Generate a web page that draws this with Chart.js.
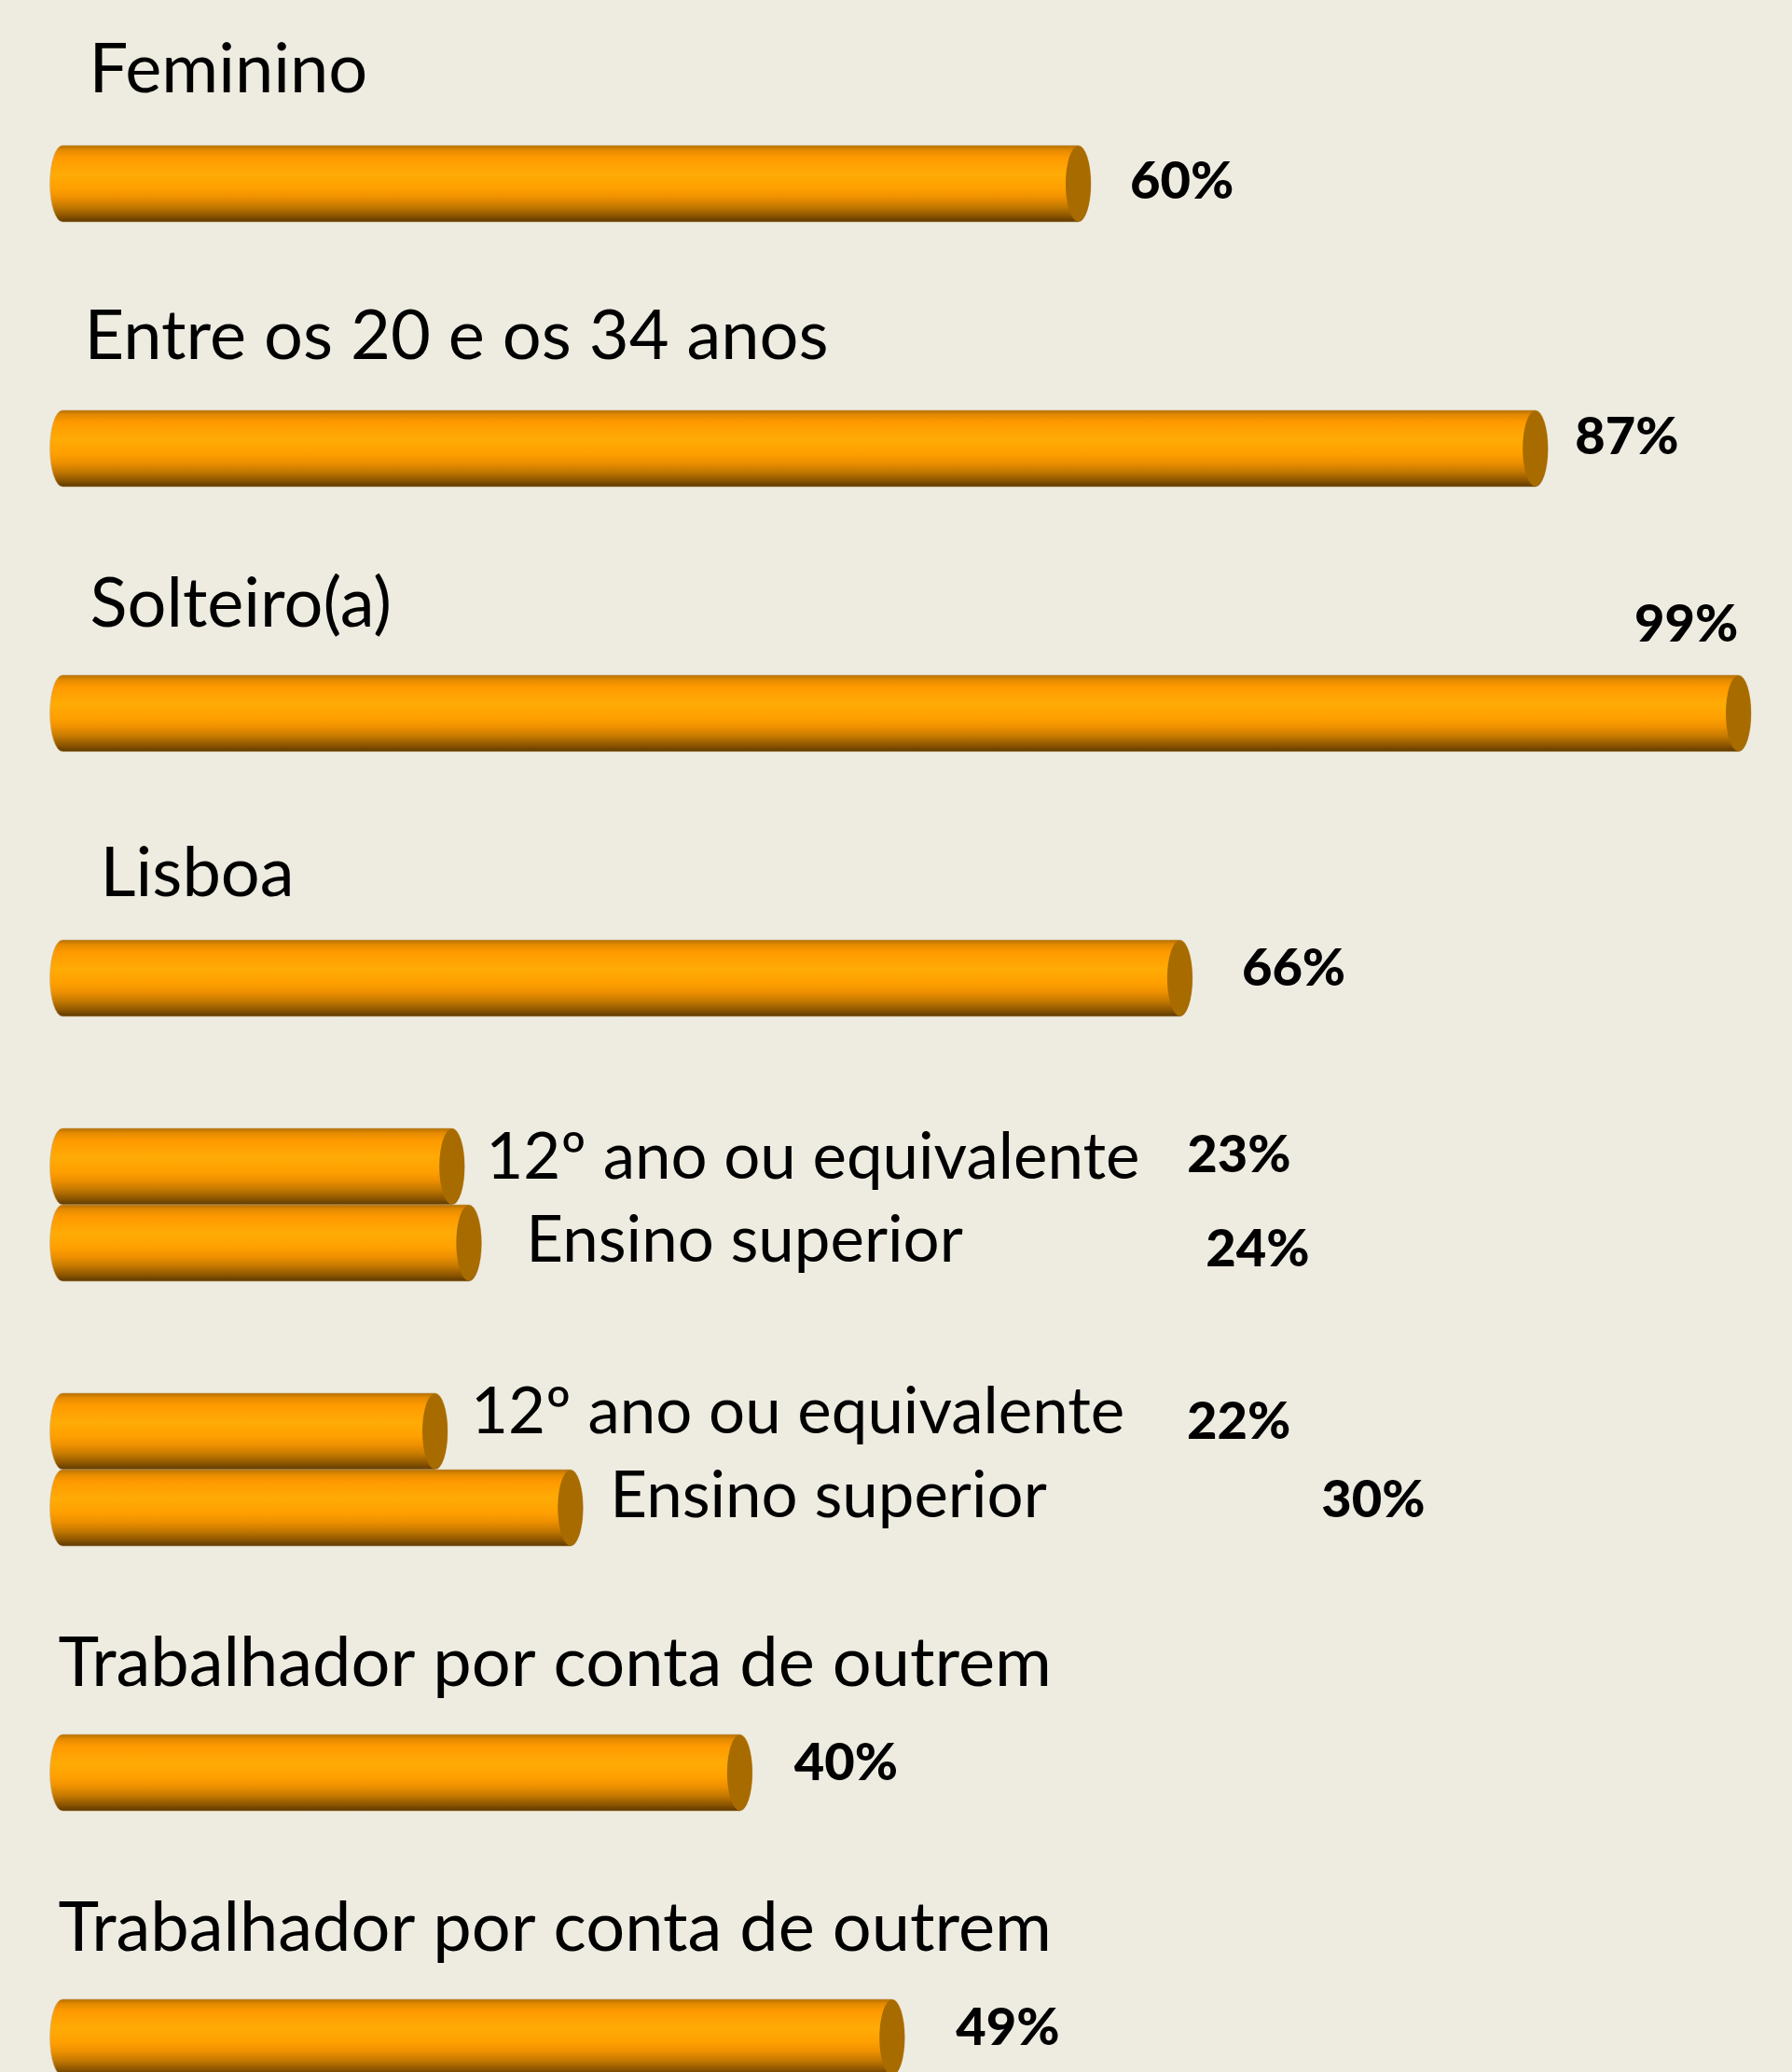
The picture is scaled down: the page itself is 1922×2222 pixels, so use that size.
<!DOCTYPE html>
<html>
<head>
<meta charset="utf-8">
<script src="https://cdn.jsdelivr.net/npm/chart.js@4.4.1/dist/chart.umd.min.js"></script>
<style>
    html, body { margin: 0; padding: 0; background: #EEECE1; overflow: hidden; }
    #profileChart { display: block; }
</style>
</head>
<body>
<canvas id="profileChart" width="1922" height="2300"></canvas>
<script>
// Group titles (empty where the group has two labelled bars instead)
const groups = ['Feminino', 'Entre os 20 e os 34 anos', 'Solteiro(a)', 'Lisboa', '', '',
    'Trabalhador por conta de outrem', 'Trabalhador por conta de outrem'];

// Upper bar of the paired groups
const upperLabels = [null, null, null, null, '12º ano ou equivalente', '12º ano ou equivalente', null, null];
const upperValues = [null, null, null, null, 23, 22, null, null];

// Main bar of every group
const mainLabels = [null, null, null, null, 'Ensino superior', 'Ensino superior', null, null];
const mainValues = [60, 87, 99, 66, 24, 30, 40, 49];

// Hand placed text positions, relative to the bars (px)
const titleOffsets = [[15, -57], [10, -55], [16, -52], [27, -47], null, null, [-18, -52], [-18, -52]];
const mainPctOffsets = [[42, 16], [29, 6], [-125, -77], [53, 8], [777, 25], [792, 10], [45, 8], [55, 8]];
const upperPctOffsets = [null, null, null, null, [775, 6], [793, 8], null, null];
const mainLabelOffsets = [null, null, null, null, [48, 20], [29, 10], null, null];
const upperLabelOffsets = [null, null, null, null, [23, 13], [25, 2], null, null];

const TITLE_FONT = '74px Lato, "Noto Sans", sans-serif';
const PAIR_FONT = '69px Lato, "Noto Sans", sans-serif';
const PCT_FONT = '900 56px Lato, "Noto Sans", sans-serif';

// Draw one orange cylinder from x0 (value 0) to x1 (value end)
function drawCylinder(ctx, x0, x1, yc, h) {
    const rx = 13.5;
    const ry = h / 2;
    const top = yc - ry;
    const bottom = yc + ry;
    const lc = x0 - rx;
    const rc = x1 - rx;

    const grad = ctx.createLinearGradient(0, top, 0, bottom);
    grad.addColorStop(0, '#B46E00');
    grad.addColorStop(0.06, '#E38A00');
    grad.addColorStop(0.16, '#FF9A00');
    grad.addColorStop(0.38, '#FFAB06');
    grad.addColorStop(0.56, '#FFA000');
    grad.addColorStop(0.68, '#EE9000');
    grad.addColorStop(0.8, '#C47900');
    grad.addColorStop(0.92, '#8C5500');
    grad.addColorStop(1, '#5C3900');

    ctx.save();
    ctx.beginPath();
    ctx.moveTo(rc, top);
    ctx.lineTo(lc, top);
    ctx.ellipse(lc, yc, rx, ry, 0, -Math.PI / 2, Math.PI / 2, true);
    ctx.lineTo(rc, bottom);
    ctx.ellipse(rc, yc, rx, ry, 0, Math.PI / 2, -Math.PI / 2, true);
    ctx.closePath();
    ctx.fillStyle = grad;
    ctx.fill();
    ctx.lineWidth = 1;
    ctx.strokeStyle = 'rgba(200, 170, 120, 0.6)';
    ctx.stroke();

    // end face
    ctx.beginPath();
    ctx.ellipse(rc, yc, rx, ry - 0.5, 0, 0, Math.PI * 2);
    ctx.fillStyle = '#A86B00';
    ctx.fill();
    ctx.restore();
}

const cylinderPlugin = {
    id: 'cylinders',
    afterDatasetsDraw(chart) {
        const ctx = chart.ctx;
        chart.data.datasets.forEach((ds, di) => {
            const meta = chart.getDatasetMeta(di);
            meta.data.forEach((bar, i) => {
                if (ds.data[i] == null) return;
                const p = bar.getProps(['x', 'y', 'base', 'height'], true);
                drawCylinder(ctx, p.base, p.x, p.y, p.height);
            });
        });
    },
    afterDraw(chart) {
        const ctx = chart.ctx;
        const left = chart.chartArea.left;
        const upper = chart.getDatasetMeta(0).data;
        const main = chart.getDatasetMeta(1).data;
        ctx.save();
        ctx.fillStyle = '#000000';
        ctx.textAlign = 'left';
        ctx.textBaseline = 'alphabetic';

        main.forEach((bar, i) => {
            const top = bar.y - bar.height / 2;
            // group title above the bar
            if (groups[i] && titleOffsets[i]) {
                ctx.font = TITLE_FONT;
                ctx.fillText(groups[i], left + titleOffsets[i][0], top + titleOffsets[i][1]);
            }
            // inline labels for paired bars
            if (mainLabels[i]) {
                ctx.font = PAIR_FONT;
                ctx.fillText(mainLabels[i], bar.x + mainLabelOffsets[i][0], bar.y + mainLabelOffsets[i][1]);
            }
            if (upperLabels[i]) {
                const ub = upper[i];
                ctx.font = PAIR_FONT;
                ctx.fillText(upperLabels[i], ub.x + upperLabelOffsets[i][0], ub.y + upperLabelOffsets[i][1]);
            }
            // percentages
            ctx.font = PCT_FONT;
            ctx.fillText(mainValues[i] + '%', bar.x + mainPctOffsets[i][0], bar.y + mainPctOffsets[i][1]);
            if (upperValues[i] != null) {
                const ub = upper[i];
                ctx.fillText(upperValues[i] + '%', ub.x + upperPctOffsets[i][0], ub.y + upperPctOffsets[i][1]);
            }
        });
        ctx.restore();
    }
};

function createChart() {
    const canvas = document.getElementById('profileChart');
    new Chart(canvas, {
        type: 'bar',
        data: {
            labels: groups,
            datasets: [
                { label: '12º ano ou equivalente', data: upperValues, backgroundColor: 'rgba(0,0,0,0)' },
                { label: 'Principal', data: mainValues, backgroundColor: 'rgba(0,0,0,0)' }
            ]
        },
        options: {
            indexAxis: 'y',
            responsive: false,
            animation: false,
            barThickness: 82,
            layout: { padding: { left: 80.6, right: 25.8, top: 14, bottom: 14 } },
            plugins: {
                legend: { display: false },
                tooltip: { enabled: false }
            },
            scales: {
                x: { min: 0, max: 100, display: false },
                y: { display: false }
            }
        },
        plugins: [cylinderPlugin]
    });
}

// make sure the local fonts are ready before drawing on the canvas
Promise.all([
    document.fonts.load(TITLE_FONT),
    document.fonts.load(PAIR_FONT),
    document.fonts.load(PCT_FONT)
]).then(createChart, createChart);
</script>
</body>
</html>
